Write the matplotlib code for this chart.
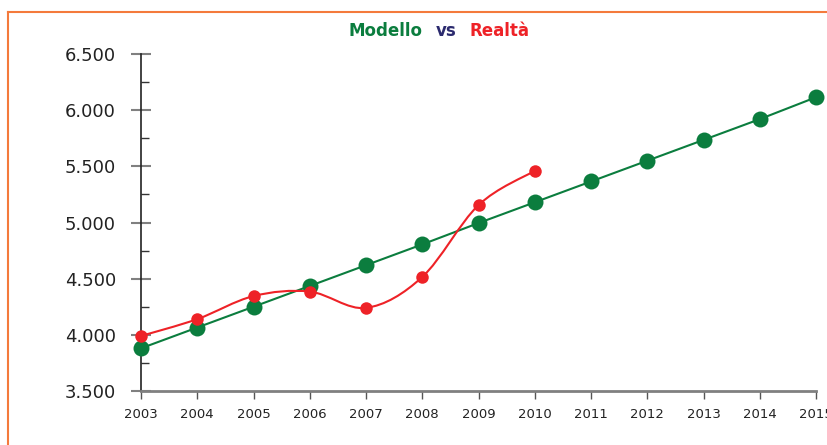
import numpy as np
import matplotlib.pyplot as plt
from matplotlib.path import Path
from matplotlib.patches import PathPatch
from matplotlib.lines import Line2D
from matplotlib.ticker import FuncFormatter, MultipleLocator

# Model projection and actual values
years = np.arange(2003, 2016)
modello = [3880, 4065, 4250, 4435, 4620, 4805, 4995, 5180, 5365, 5550, 5735, 5920, 6115]
anni_reali = np.arange(2003, 2011)
realta = [3990, 4140, 4345, 4385, 4240, 4515, 5155, 5460]

GREEN = '#0b7d3e'
RED = '#ee2227'
NAVY = '#2b2a6e'
ORANGE = '#f47a3c'


def smooth_path(x, y):
    # cubic bezier through the points, like a spreadsheet "smoothed line"
    pts = np.column_stack([x, y]).astype(float)
    ext = np.vstack([pts[0], pts, pts[-1]])
    verts = [pts[0]]
    codes = [Path.MOVETO]
    for i in range(len(pts) - 1):
        p0, p1, p2, p3 = ext[i], ext[i + 1], ext[i + 2], ext[i + 3]
        c1 = p1 + (p2 - p0) / 6
        c2 = p2 - (p3 - p1) / 6
        verts += [c1, c2, p2]
        codes += [Path.CURVE4] * 3
    return Path(verts, codes)


fig = plt.figure(figsize=(8.28, 4.45), dpi=100)
ax = fig.add_axes([141 / 828, 1 - 391 / 445, 675 / 828, 337 / 445])

ax.plot(years, modello, color=GREEN, lw=1.5, marker='o', ms=11.5,
        markeredgewidth=0, clip_on=False, zorder=3)
ax.add_patch(PathPatch(smooth_path(anni_reali, realta), fill=False,
                       edgecolor=RED, lw=1.5, zorder=4))
ax.plot(anni_reali, realta, ls='none', color=RED, marker='o', ms=9,
        markeredgewidth=0, clip_on=False, zorder=5)

ax.set_xlim(2003, 2015)
ax.set_ylim(3500, 6500)
ax.set_xticks(years)
ax.yaxis.set_major_locator(MultipleLocator(500))
ax.yaxis.set_minor_locator(MultipleLocator(250))
ax.yaxis.set_major_formatter(FuncFormatter(lambda v, p: f'{int(v):,}'.replace(',', '.')))

for s in ['top', 'right']:
    ax.spines[s].set_visible(False)
ax.spines['left'].set_color('#222222')
ax.spines['left'].set_linewidth(1.2)
ax.spines['bottom'].set_color('#808080')
ax.spines['bottom'].set_linewidth(2)

ax.tick_params(axis='y', which='major', direction='inout', length=14, width=1.5,
               color='#808080', labelsize=13, labelcolor='#222222', pad=11)
ax.tick_params(axis='y', which='minor', direction='in', length=6, width=1, color='#333333')
ax.tick_params(axis='x', direction='out', length=6, width=1, color='#555555',
               labelsize=9.5, labelcolor='#222222', pad=6)

# title in three colours
ty = 1 - 31 / 445
fig.text(386 / 828, ty, 'Modello', color=GREEN, fontsize=12, fontweight='bold', va='center', ha='center')
fig.text(446 / 828, ty, 'vs', color=NAVY, fontsize=12, fontweight='bold', va='center', ha='center')
fig.text(500 / 828, ty, 'Realtà', color=RED, fontsize=12, fontweight='bold', va='center', ha='center')

# orange frame along top and left
fig.add_artist(Line2D([8 / 828, 1], [1 - 11.5 / 445] * 2, color=ORANGE, lw=1.5))
fig.add_artist(Line2D([8 / 828] * 2, [0, 1 - 11.5 / 445], color=ORANGE, lw=1.5))

fig.savefig('out.png', dpi=100)
